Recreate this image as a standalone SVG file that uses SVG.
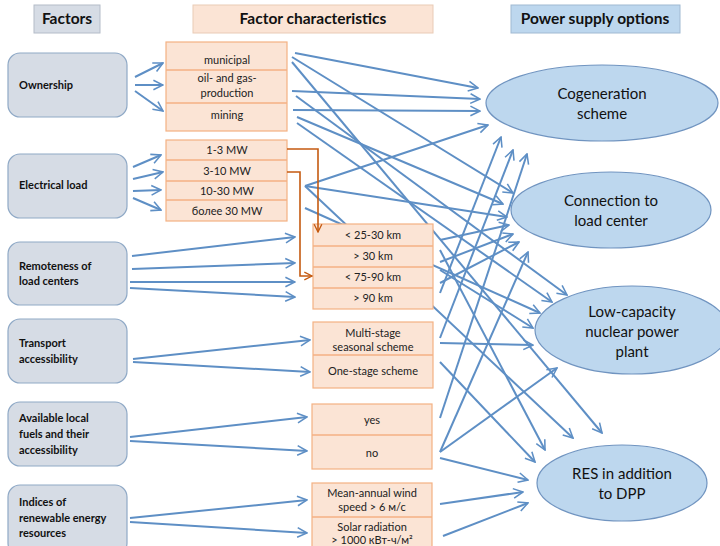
<svg xmlns="http://www.w3.org/2000/svg" width="720" height="546" viewBox="0 0 720 546">
<style>
.hdr{font-family:Lato,"Open Sans","Liberation Sans",sans-serif;font-weight:bold;font-size:15.5px;fill:#111;text-anchor:middle}
.fac rect{fill:#d6dce5;stroke:#8fa9c6;stroke-width:1.2}
.fac text{font-family:Lato,"Open Sans","Liberation Sans",sans-serif;font-weight:bold;font-size:11px;fill:#111}
.ch rect{fill:#fbe4d5;stroke:#f4b183;stroke-width:1.2}
.ch line{stroke:#f4b183;stroke-width:1.5}
.ch text{font-family:Lato,"Open Sans","Liberation Sans",sans-serif;font-size:11px;fill:#222;text-anchor:middle}
.opt ellipse{fill:#bdd7ee;stroke:#7094c0;stroke-width:1.2}
.opt text{font-family:Lato,"Open Sans","Liberation Sans",sans-serif;font-size:15px;fill:#111;text-anchor:middle}
.bl{stroke:#5e8fc5;stroke-width:2;fill:none;marker-end:url(#ab)}
.or{stroke:#c55a11;stroke-width:1.6;fill:none;marker-end:url(#ao)}
</style>
<defs>
<marker id="ab" viewBox="0 0 10 10" refX="9" refY="5" markerWidth="6" markerHeight="6" orient="auto" markerUnits="strokeWidth">
<path d="M1,1 L9,5 L1,9" fill="none" stroke="#5e8fc5" stroke-width="1.3"/>
</marker>
<marker id="ao" viewBox="0 0 10 10" refX="9" refY="5" markerWidth="6" markerHeight="6" orient="auto" markerUnits="strokeWidth">
<path d="M1,1 L9,5 L1,9" fill="none" stroke="#c55a11" stroke-width="1.4"/>
</marker>
</defs>
<rect width="720" height="546" fill="#ffffff"/>

<g id="header-factors"><rect x="34" y="5" width="66" height="28" fill="#d6dce5" stroke="#b4bcc8"/><text class="hdr" x="67" y="24">Factors</text></g>
<g id="header-characteristics"><rect x="193" y="5" width="240" height="28" fill="#fbe4d5" stroke="#e9cbb6"/><text class="hdr" x="313" y="24">Factor characteristics</text></g>
<g id="header-options"><rect x="511" y="5" width="169" height="28" fill="#bdd7ee" stroke="#a0b9d2"/><text class="hdr" x="595" y="24">Power supply options</text></g>

<g id="connectors">
<path class="bl" d="M135,77 L163,63"/>
<path class="bl" d="M135,85 L163,85"/>
<path class="bl" d="M135,91 L163,111"/>
<path class="bl" d="M133,167 L161,155"/>
<path class="bl" d="M133,179 L163,172"/>
<path class="bl" d="M133,191 L161,190"/>
<path class="bl" d="M133,198 L161,210"/>
<path class="bl" d="M132,256 L295,237"/>
<path class="bl" d="M132,269 L295,263"/>
<path class="bl" d="M130,282 L295,282"/>
<path class="bl" d="M130,288 L295,297"/>
<path class="bl" d="M133,359 L310,340"/>
<path class="bl" d="M133,362 L310,372"/>
<path class="bl" d="M130,437 L307,417"/>
<path class="bl" d="M130,441 L307,451"/>
<path class="bl" d="M130,518 L307,500"/>
<path class="bl" d="M130,522 L307,533"/>

<path class="bl" d="M295,53 L478,88"/>
<path class="bl" d="M292,91 L480,99"/>
<path class="bl" d="M293,110 L480,111"/>
<path class="bl" d="M305,186 L488,125"/>
<path class="bl" d="M440,293 L501,137"/>
<path class="bl" d="M440,338 L513,150"/>
<path class="bl" d="M440,418 L527,154"/>

<path class="bl" d="M292,57 L513,193"/>
<path class="bl" d="M297,117 L503,204"/>
<path class="bl" d="M305,186 L507,217"/>
<path class="bl" d="M440,240 L509,225"/>
<path class="bl" d="M440,262 L513,234"/>
<path class="bl" d="M440,283 L519,242"/>
<path class="bl" d="M440,452 L528,252"/>

<path class="bl" d="M296,96 L567,295"/>
<path class="bl" d="M297,123 L552,302"/>
<path class="bl" d="M305,208 L540,313"/>
<path class="bl" d="M440,270 L533,328"/>
<path class="bl" d="M440,343 L533,345"/>
<path class="bl" d="M440,452 L557,368"/>

<path class="bl" d="M292,62 L602,433"/>
<path class="bl" d="M305,186 L573,438"/>
<path class="bl" d="M440,250 L545,450"/>
<path class="bl" d="M440,362 L535,462"/>
<path class="bl" d="M440,458 L528,480"/>
<path class="bl" d="M440,504 L523,492"/>
<path class="bl" d="M443,536 L528,503"/>
</g>

<g id="f-ownership" class="fac"><rect x="8" y="53" width="119" height="64" rx="12"/><text x="19" y="89">Ownership</text></g>
<g id="f-load" class="fac"><rect x="8" y="154" width="119" height="64" rx="12"/><text x="19" y="189">Electrical load</text></g>
<g id="f-remote" class="fac"><rect x="8" y="242" width="119" height="63" rx="12"/><text x="19" y="270">Remoteness of</text><text x="19" y="285">load centers</text></g>
<g id="f-transport" class="fac"><rect x="8" y="319" width="119" height="64" rx="12"/><text x="19" y="347">Transport</text><text x="19" y="363">accessibility</text></g>
<g id="f-fuels" class="fac"><rect x="8" y="402" width="119" height="64" rx="12"/><text x="19" y="422">Available local</text><text x="19" y="438">fuels and their</text><text x="19" y="454">accessibility</text></g>
<g id="f-res" class="fac"><rect x="8" y="485" width="119" height="70" rx="12"/><text x="19" y="506">Indices of</text><text x="19" y="522">renewable energy</text><text x="19" y="537">resources</text></g>

<g id="c-ownership" class="ch"><rect x="166" y="42" width="121" height="89"/><line x1="166" y1="70" x2="287" y2="70"/><line x1="166" y1="103" x2="287" y2="103"/>
<text x="227" y="64">municipal</text><text x="227" y="82">oil- and gas-</text><text x="227" y="97">production</text><text x="227" y="119">mining</text></g>
<g id="c-load" class="ch"><rect x="166" y="140" width="121" height="81"/><line x1="166" y1="160" x2="287" y2="160"/><line x1="166" y1="181" x2="287" y2="181"/><line x1="166" y1="200" x2="287" y2="200"/>
<text x="227" y="154">1-3 MW</text><text x="227" y="175">3-10 MW</text><text x="227" y="195">10-30 MW</text><text x="227" y="215">более 30 MW</text></g>
<g id="c-remote" class="ch"><rect x="313" y="224" width="120" height="85"/><line x1="313" y1="246" x2="433" y2="246"/><line x1="313" y1="267" x2="433" y2="267"/><line x1="313" y1="288" x2="433" y2="288"/>
<text x="373" y="239">&lt; 25-30 km</text><text x="373" y="260">&gt; 30 km</text><text x="373" y="281">&lt; 75-90 km</text><text x="373" y="302">&gt; 90 km</text></g>
<g id="c-transport" class="ch"><rect x="313" y="322" width="120" height="66"/><line x1="313" y1="355" x2="433" y2="355"/>
<text x="373" y="337">Multi-stage</text><text x="373" y="351">seasonal scheme</text><text x="373" y="375">One-stage scheme</text></g>
<g id="c-fuels" class="ch"><rect x="312" y="404" width="120" height="65"/><line x1="312" y1="435" x2="432" y2="435"/>
<text x="372" y="424">yes</text><text x="372" y="457">no</text></g>
<g id="c-res" class="ch"><rect x="312" y="483" width="120" height="72"/><line x1="312" y1="517" x2="432" y2="517"/>
<text x="372" y="497" font-size="9.5">Mean-annual wind</text><text x="372" y="511" font-size="9.5">speed &gt; 6 м/с</text><text x="372" y="531" font-size="9.5">Solar radiation</text><text x="372" y="544" font-size="9.5">&gt; 1000 кВт-ч/м²</text></g>

<g id="connectors-orange">
<path class="or" d="M287,149 L318,149 L318,232"/>
<path class="or" d="M287,172 L300,172 L300,276 L312,276"/>
</g>

<g id="o-cogen" class="opt"><ellipse cx="602" cy="103" rx="116" ry="38"/><text x="602" y="99">Cogeneration</text><text x="602" y="119">scheme</text></g>
<g id="o-connect" class="opt"><ellipse cx="611" cy="210" rx="100" ry="38"/><text x="611" y="206">Connection to</text><text x="611" y="226">load center</text></g>
<g id="o-nuclear" class="opt"><ellipse cx="632" cy="330" rx="97" ry="44"/><text x="632" y="317">Low-capacity</text><text x="632" y="337">nuclear power</text><text x="632" y="357">plant</text></g>
<g id="o-res" class="opt"><ellipse cx="622" cy="483" rx="85" ry="38"/><text x="622" y="479">RES in addition</text><text x="622" y="499">to DPP</text></g>
</svg>
